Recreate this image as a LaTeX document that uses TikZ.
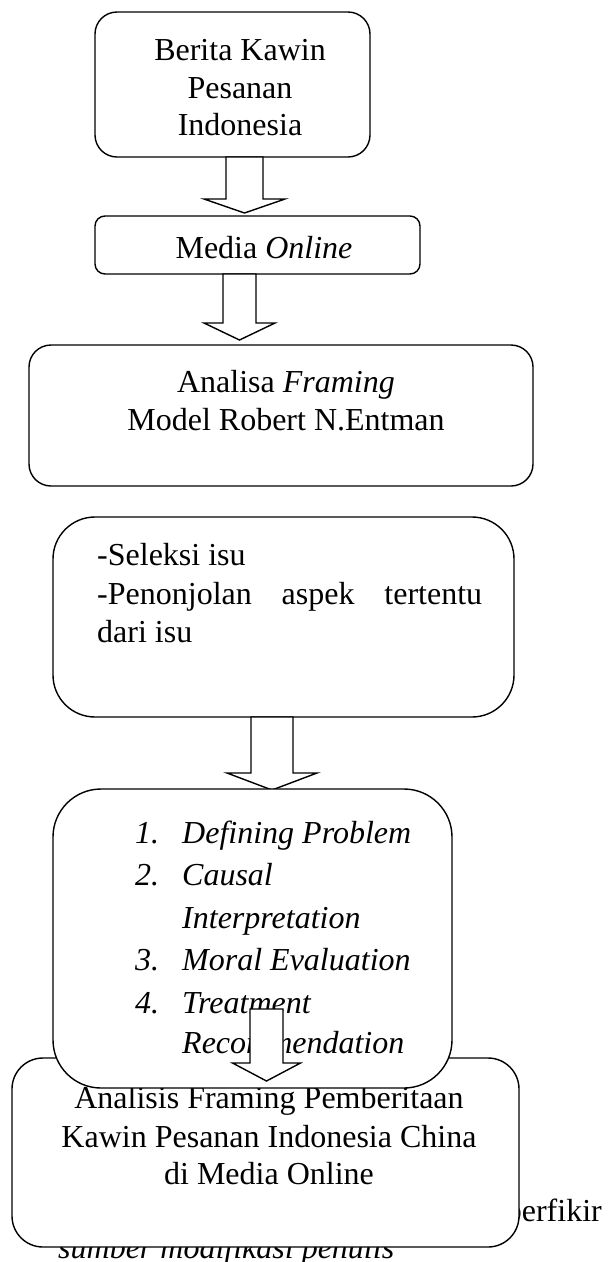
\documentclass[tikz,border=0pt]{standalone}
\usepackage{fontspec}
\setmainfont{Liberation Serif}
\tikzset{
  box/.style={draw, line width=1.4pt, fill=white, inner sep=0pt},
  barrow/.style={draw, line width=1.4pt, fill=white, line join=miter},
  txt/.style={font=\fontsize{32}{38}\selectfont, inner sep=0pt, anchor=base},
  ltxt/.style={font=\fontsize{32}{38}\selectfont, inner sep=0pt, anchor=base west},
  itxt/.style={font=\fontsize{32}{38}\selectfont\itshape, inner sep=0pt, anchor=base west},
}
% cx, ytop, yhead, ytip, halfshaft, halfhead
\newcommand{\blockarr}[6]{%
  \draw[barrow] (#1-#5,#2) -- (#1-#5,#3) -- (#1-#6,#3) -- (#1,#4) -- (#1+#6,#3) -- (#1+#5,#3) -- (#1+#5,#2) -- cycle;}
\begin{document}
\begin{tikzpicture}[x=1pt,y=-1pt]
\useasboundingbox (0,0) rectangle (609,1262);
\fill[white] (0,0) rectangle (609,1262);

% texts partly hidden behind the last box
\node[txt, anchor=base east] (cap) at (602,1221) {berfikir};
\node[itxt] (src) at (58,1258) {sumber modifikasi penulis};

% box 1
\node[box, rounded corners=22pt, minimum width=275pt, minimum height=145pt] (b1) at (232.5,84.5) {};
\node[txt] (t1a) at (240,60) {Berita Kawin};
\node[txt] (t1b) at (240,98) {Pesanan};
\node[txt] (t1c) at (240,135) {Indonesia};

% box 2
\node[box, rounded corners=10pt, minimum width=325pt, minimum height=58pt] (b2) at (257.5,245) {};
\node[txt] (t2) at (264,258) {Media \textit{Online}};

% box 3
\node[box, rounded corners=22pt, minimum width=504pt, minimum height=141pt] (b3) at (281,415.5) {};
\node[txt] (t3a) at (286,392) {Analisa \textit{Framing}};
\node[txt] (t3b) at (286,430) {Model Robert N.Entman};

% box 4
\node[box, rounded corners=42pt, minimum width=461pt, minimum height=200pt] (b4) at (283.5,617) {};
\node[ltxt] (t4a) at (97,565) {-Seleksi isu};
\node[ltxt] (t4b) at (97,604) {\hbox to 385pt{-Penonjolan\hfill aspek\hfill tertentu}};
\node[ltxt] (t4c) at (97,642) {dari isu};

% arrows 1-3
\blockarr{244.5}{157}{199}{213}{18.5}{40.5}
\blockarr{239.5}{274}{323}{340}{16.5}{35.5}
\blockarr{272}{717}{773}{790}{21}{45}

% box 6
\node[box, rounded corners=31pt, minimum width=507pt, minimum height=189pt] (b6) at (265.5,1152.5) {};
\node[txt] (t6a) at (269,1108) {Analisis Framing Pemberitaan};
\node[txt] (t6b) at (269,1147) {Kawin Pesanan Indonesia China};
\node[txt] (t6c) at (269,1184) {di Media Online};

% box 5
\node[box, rounded corners=48pt, minimum width=399pt, minimum height=299pt] (b5) at (252.5,938.5) {};
\node[itxt] (n1) at (135,843) {1.};
\node[itxt] (l1) at (182,843) {Defining Problem};
\node[itxt] (n2) at (135,885) {2.};
\node[itxt] (l2) at (182,885) {Causal};
\node[itxt] (l2b) at (182,928) {Interpretation};
\node[itxt] (n3) at (135,970) {3.};
\node[itxt] (l3) at (182,970) {Moral Evaluation};
\node[itxt] (n4) at (135,1013) {4.};
\node[itxt] (l4) at (182,1013) {Treatment};
\node[itxt] (l4b) at (182,1053) {Recommendation};

% arrow 4
\blockarr{266.5}{1009}{1063}{1081}{16.5}{34}
\end{tikzpicture}
\end{document}
